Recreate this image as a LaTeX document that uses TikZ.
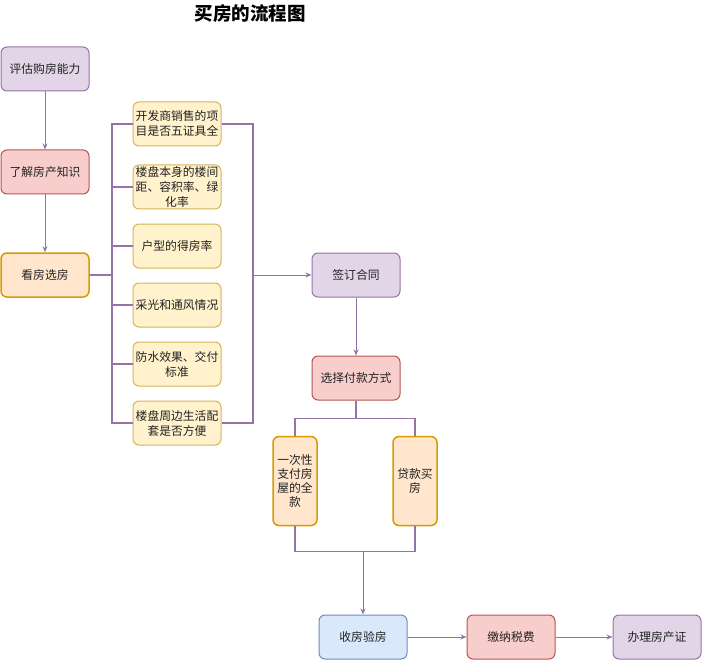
\documentclass[tikz,border=0pt]{standalone}
\usepackage{fontspec}
\setmainfont{Noto Sans CJK SC}
\usetikzlibrary{arrows.meta,calc}
\definecolor{purF}{HTML}{E1D5E7}\definecolor{purD}{HTML}{9673A6}
\definecolor{redF}{HTML}{F8CECC}\definecolor{redD}{HTML}{B85450}
\definecolor{oraF}{HTML}{FFE6CC}\definecolor{oraD}{HTML}{D79B00}
\definecolor{yelF}{HTML}{FFF2CC}\definecolor{yelD}{HTML}{D6B656}
\definecolor{bluF}{HTML}{DAE8FC}\definecolor{bluD}{HTML}{6C8EBF}
\definecolor{txt}{HTML}{222222}
\tikzset{
  box/.style={rounded corners=6pt, minimum width=88pt, minimum height=44pt, inner sep=1pt,
    align=center, text=txt, font=\fontsize{11.8}{15}\selectfont, line width=1pt},
  purbox/.style={box, fill=purF, draw=purD},
  redbox/.style={box, fill=redF, draw=redD},
  orabox/.style={box, fill=oraF, draw=oraD, line width=1.5pt},
  yelbox/.style={box, fill=yelF, draw=yelD},
  blubox/.style={box, fill=bluF, draw=bluD},
  vbox/.style={box, fill=oraF, draw=oraD, line width=1.5pt, minimum width=44pt, minimum height=89pt,
    font=\fontsize{11.8}{14}\selectfont},
  conn/.style={draw=purD, line width=1.5pt},
  arr/.style={draw=purD, line width=1pt, -{Stealth[length=6pt,width=5pt]}},
}
\begin{document}
\begin{tikzpicture}[x=1pt,y=-1pt]
\useasboundingbox (0,0) rectangle (703,660);
\node[font=\fontsize{18.5}{21}\selectfont\bfseries] (title) at (250,14) {买房的流程图};
\node[purbox] (pg) at (45,69) {评估购房能力};
\node[redbox] (lj) at (45,172) {了解房产知识};
\node[orabox] (kf) at (45,275) {看房选房};
\node[yelbox] (y1) at (177,124) {开发商销售的项\\目是否五证具全};
\node[yelbox] (y2) at (177,187) {楼盘本身的楼间\\距、容积率、绿\\化率};
\node[yelbox] (y3) at (177,246) {户型的得房率};
\node[yelbox] (y4) at (177,305) {采光和通风情况};
\node[yelbox] (y5) at (177,364) {防水效果、交付\\标准};
\node[yelbox] (y6) at (177,423) {楼盘周边生活配\\套是否方便};
\node[purbox] (qd) at (356,275) {签订合同};
\node[redbox] (xz) at (356,378) {选择付款方式};
\node[vbox] (yc) at (295,481) {一次性\\支付房\\屋的全\\款};
\node[vbox] (dk) at (415,481) {贷款买\\房};
\node[blubox] (sf) at (363,637) {收房验房};
\node[redbox] (jn) at (511,637) {缴纳税费};
\node[purbox] (bl) at (657,637) {办理房产证};
\coordinate (lb) at (112,0);
\coordinate (rb) at (253,0);
\draw[arr] (pg) -- (lj);
\draw[arr] (lj) -- (kf);
% left bracket
\draw[conn] (y1.west) -| (lb |- y6.west) -- (y6.west);
\foreach \n in {y2,y3,y4,y5} \draw[conn] (\n.west) -- (lb |- \n.west);
\draw[conn] (kf.east) -- (lb |- kf.east);
% right bracket
\draw[conn] (y1.east) -| (rb |- y6.east) -- (y6.east);
\draw[arr] (rb |- qd.west) -- (qd.west);
\draw[arr] (qd) -- (xz);
% split
\draw[conn] (xz.south) -- ++(0,18) coordinate (sp);
\draw[conn] (yc.north) |- (sp) -| (dk.north);
% merge
\draw[conn] (yc.south) -- ++(0,25) coordinate (mg) -| (dk.south);
\draw[arr] (sf.north |- mg) -- (sf.north);
\draw[arr] (sf) -- (jn);
\draw[arr] (jn) -- (bl);
\end{tikzpicture}
\end{document}
